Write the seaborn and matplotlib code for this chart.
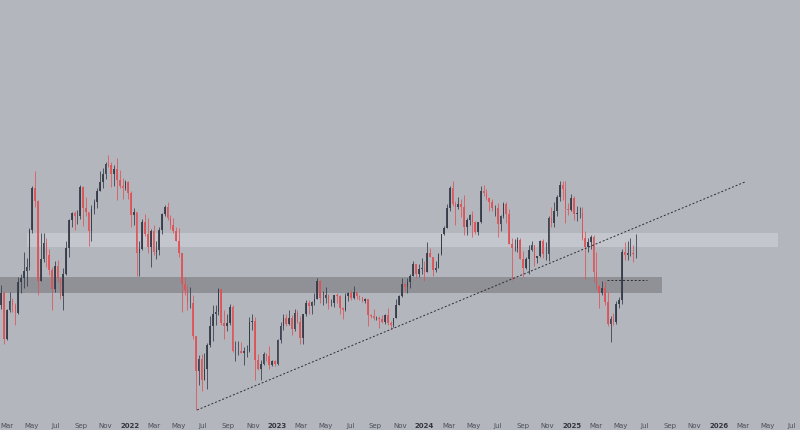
import pandas as pd
import numpy as np
import matplotlib
matplotlib.use("Agg")
import matplotlib.pyplot as plt
import seaborn as sns

# weekly candles (log price scale)
first_open = 1780
closes = [1935, 1420, 1725, 1835, 1785, 1690, 2080, 2140, 2240, 2300, 2950, 3920, 3580, 2100,
          2430, 2700, 2500, 2250, 1980, 2320, 2140, 1890, 2190, 2620, 3160, 3310, 3230, 3230,
          3930, 3410, 3330, 2920, 3390, 3570, 3840, 4070, 4290, 4610, 4570, 4310, 4440, 4130,
          3960, 3920, 4060, 3770,
          3260, 3330, 2530, 2600, 3120, 2880, 2630, 2920, 2550, 2580, 2950, 3280, 3450, 3200,
          3060, 2930, 2730, 2520, 2050, 1970, 1800, 1800, 1450, 1140, 1240, 1075, 1160, 1360,
          1550, 1680, 1700, 1980, 1580, 1550, 1580, 1760, 1310, 1310, 1310, 1290, 1310, 1310,
          1590, 1600, 1230, 1160, 1200, 1280, 1265, 1190, 1220, 1200,
          1410, 1550, 1630, 1570, 1630, 1520, 1690, 1590, 1430, 1680, 1800, 1770, 1820, 1860,
          2090, 1870, 1870, 1900, 1800, 1810, 1900, 1890, 1750, 1720, 1890, 1930, 1870, 1940,
          1890, 1880, 1830, 1850, 1670, 1650, 1630, 1630, 1620, 1590, 1670, 1580, 1560, 1630,
          1780, 1890, 2050, 2010, 2080, 2170, 2340, 2200, 2270, 2290,
          2220, 2530, 2460, 2260, 2290, 2510, 2880, 2990, 3430, 3900, 3520, 3450, 3510, 3450,
          3000, 3150, 3260, 3110, 2910, 3110, 3830, 3780, 3660, 3570, 3420, 3430, 3070, 3240,
          3520, 3280, 2690, 2610, 2610, 2750, 2430, 2290, 2420, 2580, 2660, 2440, 2470, 2730,
          2510, 2510, 3190, 3090, 3360, 3690, 4000, 3890, 3400, 3380, 3650,
          3280, 3300, 3300, 2800, 2630, 2720, 2810, 2220, 2020, 1930, 2000, 1820, 1570, 1620,
          1590, 1790, 1840, 2550, 2500, 2530, 2530, 2510, 2510]
highs = [2040, 1960, 1740, 1940, 1870, 1800, 2150, 2200, 2550, 2450, 2980, 3970, 4380, 3600,
         2900, 2900, 2800, 2600, 2300, 2400, 2410, 2140, 2290, 2740, 3180, 3330, 3340, 3370,
         4000, 3970, 3680, 3160, 3480, 3620, 3900, 4370, 4460, 4660, 4870, 4650, 4560, 4780,
         4400, 4180, 4140, 4100,
         3840, 3410, 3330, 2730, 3180, 3280, 3200, 2960, 3050, 2740, 3000, 3300, 3480, 3550,
         3270, 3190, 3000, 2980, 2520, 2150, 2040, 2010, 1900, 1440, 1270, 1280, 1290, 1380,
         1650, 1780, 1780, 2000, 1960, 1720, 1680, 1790, 1780, 1400, 1400, 1390, 1340, 1360,
         1640, 1680, 1640, 1280, 1230, 1300, 1290, 1350, 1230, 1230,
         1420, 1590, 1680, 1680, 1720, 1670, 1740, 1720, 1650, 1680, 1840, 1840, 1830, 1930,
         2140, 2110, 1960, 2010, 1920, 1850, 1910, 1930, 1900, 1760, 1930, 1950, 1970, 2030,
         1950, 1900, 1880, 1870, 1860, 1680, 1740, 1650, 1660, 1670, 1680, 1750, 1600, 1630,
         1860, 1900, 2130, 2060, 2130, 2200, 2400, 2330, 2350, 2440,
         2400, 2720, 2610, 2460, 2390, 2530, 2880, 3030, 3520, 3960, 4090, 3590, 3680, 3640,
         3720, 3190, 3290, 3360, 3130, 3120, 3960, 3980, 3890, 3690, 3620, 3480, 3530, 3270,
         3550, 3560, 3400, 2800, 2780, 2820, 2800, 2560, 2460, 2670, 2730, 2660, 2480, 2760,
         2770, 2720, 3240, 3450, 3550, 3720, 4100, 4090, 4110, 3540, 3750,
         3700, 3460, 3440, 3440, 2930, 2800, 2850, 2850, 2540, 2040, 2100, 2100, 1950, 1650,
         1690, 1830, 1880, 2600, 2720, 2730, 2790, 2670, 2880]
lows = [1730, 1370, 1410, 1700, 1700, 1560, 1680, 1930, 2000, 2020, 2250, 2900, 3450, 1900,
        2100, 2380, 2300, 2180, 1720, 1950, 2080, 1860, 1720, 2180, 2460, 3000, 2950, 3070,
        3170, 3030, 3250, 2650, 2740, 3280, 3410, 3850, 3900, 4150, 4500, 3940, 3960, 3600,
        3900, 3640, 3860, 3620,
        3000, 3060, 2160, 2170, 2580, 2840, 2520, 2300, 2500, 2430, 2500, 2880, 3240, 3150,
        2960, 2900, 2730, 2460, 1700, 1900, 1720, 1750, 1420, 880, 1040, 1000, 1080, 1010,
        1340, 1400, 1560, 1670, 1560, 1420, 1500, 1560, 1300, 1220, 1270, 1290, 1190, 1260,
        1300, 1510, 1080, 1150, 1080, 1190, 1220, 1160, 1180, 1180,
        1190, 1380, 1510, 1550, 1560, 1460, 1500, 1580, 1370, 1370, 1660, 1680, 1680, 1780,
        1850, 1810, 1780, 1810, 1740, 1770, 1760, 1800, 1680, 1620, 1710, 1830, 1840, 1850,
        1850, 1840, 1820, 1810, 1550, 1630, 1610, 1610, 1530, 1580, 1570, 1560, 1520, 1540,
        1640, 1780, 1880, 1940, 1930, 2000, 2160, 2130, 2150, 2200,
        2100, 2220, 2460, 2170, 2230, 2300, 2500, 2850, 3000, 3350, 3460, 3060, 3390, 3210,
        2850, 2860, 3060, 2820, 2870, 2860, 3090, 3700, 3600, 3360, 3360, 3240, 2810, 2920,
        3190, 3090, 2690, 2110, 2560, 2540, 2420, 2150, 2270, 2200, 2560, 2310, 2360, 2460,
        2440, 2410, 2400, 3000, 3010, 3240, 3580, 3600, 3100, 3260, 3340,
        3160, 3130, 3200, 2750, 2120, 2550, 2600, 2080, 1990, 1750, 1900, 1780, 1550, 1390,
        1560, 1570, 1750, 1790, 2410, 2410, 2480, 2380, 2440]
week_start = "2021-02-15"

# zones and lines
band_light = [2630, 2900]
band_light_span = ["2021-04-20", "2026-05-27"]
band_dark = [1930, 2150]
band_dark_span = ["2021-01-01", "2025-08-12"]
trend_dates = ["2022-06-16", "2026-03-06"]
trend_prices = [880, 4070]
level_dates = ["2025-03-28", "2025-07-06"]
level_price = [2110, 2110]

bg = "#b4b6be"
up_col = "#343b47"
down_col = "#de5256"

sns.set_theme(style="white", rc={"axes.facecolor": bg, "figure.facecolor": bg})

dates = pd.date_range(week_start, periods=len(closes), freq="7D")
df = pd.DataFrame({"date": dates, "close": closes, "high": highs, "low": lows})
df["open"] = [first_open] + closes[:-1]
df["up"] = df["close"] >= df["open"]

fig = plt.figure(figsize=(8, 4.3), dpi=100)
ax = fig.add_axes([0, 0.04, 1, 0.96])
ax.set_yscale("log")

# zones
ax.fill_between(pd.to_datetime(band_light_span), band_light[0], band_light[1],
                color="#c4c6cd", lw=0, zorder=0)
ax.fill_between(pd.to_datetime(band_dark_span), band_dark[0], band_dark[1],
                color="#8f9197", lw=0, zorder=0)

# candles
colors = np.where(df["up"], up_col, down_col)
wick_hi = np.maximum(df["high"], np.maximum(df["open"], df["close"]))
wick_lo = np.minimum(df["low"], np.minimum(df["open"], df["close"]))
ax.vlines(df["date"], wick_lo, wick_hi, colors=colors, lw=0.7, alpha=0.8, zorder=2)
ax.bar(df["date"], df["close"] - df["open"], bottom=df["open"], width=4.0,
       color=colors, lw=0, alpha=0.9, zorder=3)

# trendline and level
trend = pd.DataFrame({"date": pd.to_datetime(trend_dates), "price": trend_prices})
sns.lineplot(data=trend, x="date", y="price", ax=ax, color="#2a2d33", lw=0.7,
             zorder=4).lines[-1].set_dashes([2, 2])
ax.plot(pd.to_datetime(level_dates), level_price, color="#2a2d33", lw=0.7,
        dashes=[2, 2], zorder=4)

ax.set_xlim(pd.Timestamp("2021-02-12"), pd.Timestamp("2026-07-21"))
ax.set_ylim(863.6, 13830)
ax.minorticks_off()
ax.set_yticks([])
ax.set_yticks([], minor=True)

ticks = pd.date_range("2021-03-01", "2026-07-01", freq="2MS")
ax.set_xticks(ticks)
labels = [str(t.year) if t.month == 1 else t.strftime("%b") for t in ticks]
ax.set_xticklabels(labels, fontsize=5, color="#4a4e57")
for lab, t in zip(ax.get_xticklabels(), ticks):
    if t.month == 1:
        lab.set_fontweight("bold")
        lab.set_color("#33363d")
ax.tick_params(axis="x", length=0, pad=7)
ax.set_xlabel("")
ax.set_ylabel("")
for s in ax.spines.values():
    s.set_visible(False)

fig.savefig("out.png", dpi=100, facecolor=bg)
